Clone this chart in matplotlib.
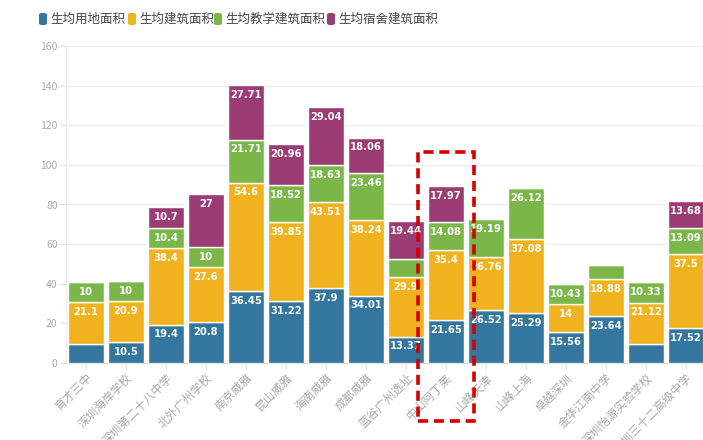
import matplotlib
matplotlib.use("Agg")
import matplotlib.pyplot as plt
import numpy as np
from matplotlib.patches import Rectangle, FancyBboxPatch

plt.rcParams['font.family'] = ['Noto Sans CJK SC', 'DejaVu Sans']

categories = ["育才三中", "深圳海岸学校", "深圳第二十八中学", "北外广州学校", "南京威雅", "昆山威雅",
              "海南威雅", "成都威雅", "蓝谷广州选址", "中山阿丁莱", "山峰天津", "山峰上海",
              "卓越深圳", "金华江南中学", "深圳怡源实验学校", "深圳三十二高级中学"]
series_names = ["生均用地面积", "生均建筑面积", "生均教学建筑面积", "生均宿舍建筑面积"]
land = [9.6, 10.5, 19.4, 20.8, 36.45, 31.22, 37.9, 34.01, 13.37, 21.65, 26.52, 25.29, 15.56, 23.64, 9.4, 17.52]
building = [21.1, 20.9, 38.4, 27.6, 54.6, 39.85, 43.51, 38.24, 29.9, 35.4, 26.76, 37.08, 14, 18.88, 21.12, 37.5]
teaching = [10, 10, 10.4, 10, 21.71, 18.52, 18.63, 23.46, 9.0, 14.08, 19.19, 26.12, 10.43, 7.0, 10.33, 13.09]
dorm = [0, 0, 10.7, 27, 27.71, 20.96, 29.04, 18.06, 19.44, 17.97, 0, 0, 0, 0, 0, 13.68]
colors = ["#33769e", "#f0b21e", "#7ab648", "#9b3d74"]

W, H = 703, 440
fig = plt.figure(figsize=(W / 100, H / 100), dpi=100)
ax = fig.add_axes([66 / W, (H - 363) / H, 640 / W, (363 - 46) / H])

x = np.arange(len(categories))
bottom = np.zeros(len(categories))
for vals, col in zip([land, building, teaching, dorm], colors):
    v = np.array(vals, dtype=float)
    ax.bar(x, v, bottom=bottom, width=0.9, color=col, edgecolor="white", linewidth=1, zorder=3)
    for xi, vi, bi in zip(x, v, bottom):
        if vi >= 10:
            ax.annotate(f"{vi:g}", (xi, bi + vi), xytext=(0, -3.5), textcoords="offset points",
                        ha="center", va="top", color="white", fontsize=7.2, fontweight="bold",
                        family="DejaVu Sans", zorder=4)
    bottom += v

ax.set_xlim(-0.5, len(categories) - 0.5)
ax.set_ylim(0, 160)
ax.set_yticks(np.arange(0, 161, 20))
ax.grid(axis="y", color="#eeeeee", linewidth=1, zorder=0)
for s in ["top", "right"]:
    ax.spines[s].set_visible(False)
ax.spines["left"].set_color("#eeeeee")
ax.spines["bottom"].set_color("#dddddd")
ax.tick_params(axis="y", colors="#e0e0e0", labelcolor="#aaaaaa", labelsize=7.5, length=4, pad=2)
ax.tick_params(axis="x", colors="#e0e0e0", labelcolor="#aaaaaa", labelsize=8.5, length=4, pad=2)
ax.set_xticks(x)
ax.set_xticklabels(categories, rotation=45, ha="right", va="top", rotation_mode="anchor")

# legend
lx_marker = [39, 128, 214, 327]
for xm, name, col in zip(lx_marker, series_names, colors):
    p = FancyBboxPatch((xm / W, (H - 25) / H), 8 / W, 12 / H, boxstyle="round,pad=0,rounding_size=0.004",
                       transform=fig.transFigure, facecolor=col, edgecolor="none")
    fig.patches.append(p)
    fig.text((xm + 11) / W, (H - 19) / H, name, ha="left", va="center", fontsize=9, color="#444444")

# highlight box
rect = Rectangle((418 / W, (H - 421) / H), 56 / W, 269 / H, transform=fig.transFigure,
                 fill=False, edgecolor="#d40000", linewidth=2.6, linestyle=(0, (2.8, 1.6)), zorder=10)
fig.patches.append(rect)

fig.savefig("out.png", dpi=100)
